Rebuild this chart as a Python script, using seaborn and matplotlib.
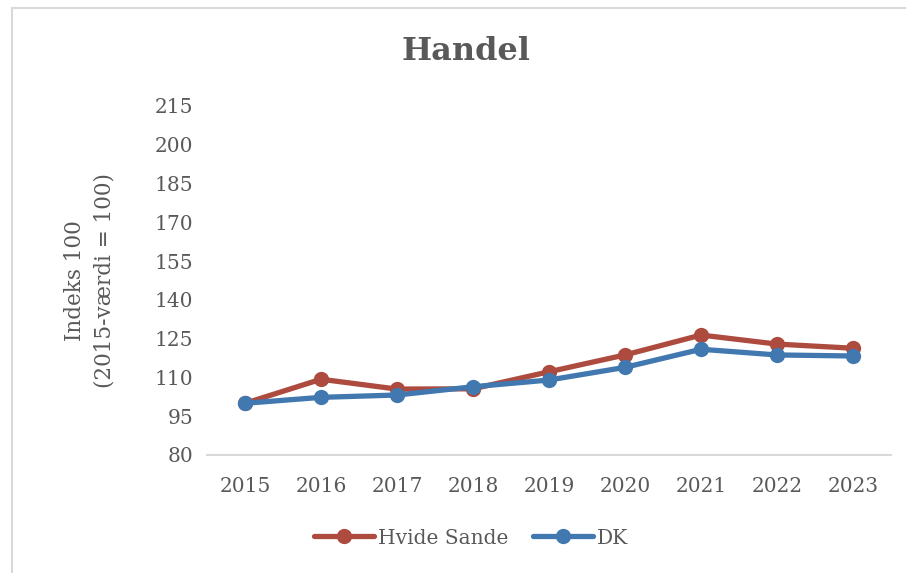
import numpy as np
import pandas as pd
import matplotlib
matplotlib.use('Agg')
import matplotlib.pyplot as plt
import seaborn as sns
from matplotlib.patches import Rectangle

years = ['2015', '2016', '2017', '2018', '2019', '2020', '2021', '2022', '2023']
hvide_sande = [100.0, 109.3, 105.5, 105.6, 112.2, 118.7, 126.4, 122.9, 121.3]
dk = [100.0, 102.3, 103.2, 106.4, 109.0, 113.9, 120.9, 118.7, 118.3]
series_names = ['Hvide Sande', 'DK']
y_ticks = [80, 95, 110, 125, 140, 155, 170, 185, 200, 215]

df = pd.DataFrame({'År': years * 2,
                   'Indeks': hvide_sande + dk,
                   'Serie': [series_names[0]] * len(years) + [series_names[1]] * len(years)})

sns.set_style('white')
plt.rcParams['font.family'] = ['DejaVu Serif']
text_col = '#595959'
colors = {'Hvide Sande': '#AD4B3F', 'DK': '#4178B0'}

fig = plt.figure(figsize=(9.06, 5.73), dpi=100)
ax = fig.add_axes([207 / 906, 1 - 455 / 573, (891 - 207) / 906, (455 - 106) / 573])

sns.lineplot(data=df, x='År', y='Indeks', hue='Serie', palette=colors, ax=ax,
             marker='o', markersize=11, markeredgewidth=0, linewidth=3.8,
             sort=False, legend=False)

ax.set_xlim(-0.5, len(years) - 0.5)
ax.set_ylim(80, 215)
ax.set_yticks(y_ticks)
ax.tick_params(axis='both', length=0, labelsize=14.5, labelcolor=text_col)
ax.tick_params(axis='x', pad=16)
ax.tick_params(axis='y', pad=10)
for s in ['top', 'right', 'left']:
    ax.spines[s].set_visible(False)
ax.spines['bottom'].set_color('#D9D9D9')
ax.spines['bottom'].set_linewidth(1.5)
ax.set_xlabel('')
ax.set_ylabel('Indeks 100\n(2015-værdi = 100)', fontsize=15.5, color=text_col, labelpad=28,
              linespacing=1.45)

fig.text(466 / 906, 1 - 52 / 573, 'Handel', ha='center', va='center', fontsize=23,
         fontweight='bold', color=text_col)

handles = [plt.Line2D([], [], color=colors[n], lw=3.8, marker='o', markersize=11,
                      markeredgewidth=0) for n in series_names]
fig.legend(handles, series_names, loc='center', bbox_to_anchor=(471 / 906, 1 - 538 / 573),
           ncol=2, frameon=False, fontsize=14.5, labelcolor=text_col, handlelength=3.0,
           handletextpad=0.2, columnspacing=1.2)

fig.patches.append(Rectangle((12 / 906, -0.1), 1.1, 1.1 - 8 / 573, transform=fig.transFigure,
                             fill=False, edgecolor='#D9D9D9', linewidth=1.5))

fig.savefig('out.png', dpi=100)
